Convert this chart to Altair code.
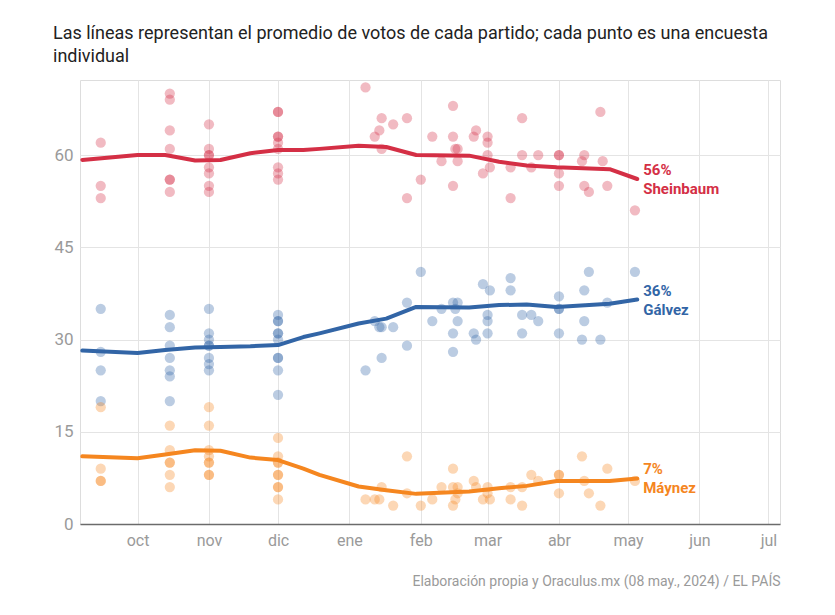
import altair as alt
import pandas as pd

# ---------------- data ----------------
parties = ["Sheinbaum", "Gálvez", "Máynez"]
colors = ["#d42f45", "#3265a6", "#f5861f"]

# individual polls
s_dates = (["2023-09-15"] * 3 + ["2023-10-15"] * 7 + ["2023-11-01"] * 8 + ["2023-12-01"] * 9 +
           ["2024-01-08", "2024-01-12", "2024-01-14", "2024-01-15", "2024-01-15", "2024-01-20",
            "2024-01-26", "2024-01-26", "2024-02-01", "2024-02-06", "2024-02-10",
            "2024-02-15", "2024-02-15", "2024-02-15", "2024-02-16", "2024-02-17", "2024-02-17",
            "2024-02-24", "2024-02-25", "2024-02-28", "2024-03-01", "2024-03-01", "2024-03-01",
            "2024-03-02", "2024-03-11", "2024-03-11", "2024-03-16", "2024-03-16", "2024-03-20",
            "2024-03-23", "2024-04-01", "2024-04-01", "2024-04-01", "2024-04-01", "2024-04-11",
            "2024-04-12", "2024-04-12", "2024-04-14", "2024-04-19", "2024-04-20", "2024-04-22",
            "2024-05-04"])
s_values = [62, 55, 53,
            70, 69, 64, 61, 56, 56, 54,
            65, 61, 60, 60, 58, 57, 55, 54,
            67, 67, 63, 63, 62, 61, 58, 57, 56,
            71, 63, 64, 66, 61, 65,
            66, 53, 56, 63, 59,
            68, 63, 55, 61, 61, 59,
            63, 64, 57, 63, 62, 60,
            58, 58, 53, 66, 60, 58,
            60, 60, 60, 57, 55, 59,
            60, 55, 54, 67, 59, 55,
            51]

g_dates = (["2023-09-15"] * 4 + ["2023-10-15"] * 7 + ["2023-11-01"] * 8 + ["2023-12-01"] * 10 +
           ["2024-01-08", "2024-01-12", "2024-01-14", "2024-01-15", "2024-01-15", "2024-01-20",
            "2024-01-26", "2024-01-26", "2024-02-01", "2024-02-06", "2024-02-10",
            "2024-02-15", "2024-02-15", "2024-02-15", "2024-02-16", "2024-02-17", "2024-02-17",
            "2024-02-24", "2024-02-25", "2024-02-28", "2024-03-01", "2024-03-01", "2024-03-01",
            "2024-03-02", "2024-03-11", "2024-03-11", "2024-03-16", "2024-03-16", "2024-03-20",
            "2024-03-23", "2024-04-01", "2024-04-01", "2024-04-01", "2024-04-01", "2024-04-11",
            "2024-04-12", "2024-04-12", "2024-04-14", "2024-04-19", "2024-04-22",
            "2024-05-04"])
g_values = [35, 28, 25, 20,
            34, 32, 29, 27, 25, 24, 20,
            35, 31, 30, 29, 29, 27, 26, 25,
            34, 33, 33, 31, 31, 30, 27, 27, 25, 21,
            25, 33, 32, 32, 27, 32,
            36, 29, 41, 33, 35,
            36, 31, 28, 35, 36, 33,
            31, 30, 39, 34, 33, 31,
            38, 40, 38, 34, 31, 34,
            33, 37, 35, 35, 31, 30,
            38, 33, 41, 30, 36,
            41]

m_dates = (["2023-09-15"] * 4 + ["2023-10-15"] * 6 + ["2023-11-01"] * 8 + ["2023-12-01"] * 9 +
           ["2024-01-08", "2024-01-12", "2024-01-14", "2024-01-15", "2024-01-20",
            "2024-01-26", "2024-01-26", "2024-02-01", "2024-02-06", "2024-02-10",
            "2024-02-15", "2024-02-15", "2024-02-15", "2024-02-16", "2024-02-17", "2024-02-17",
            "2024-02-24", "2024-02-25", "2024-02-28", "2024-03-01", "2024-03-01",
            "2024-03-02", "2024-03-11", "2024-03-11", "2024-03-16", "2024-03-16", "2024-03-20",
            "2024-03-23", "2024-04-01", "2024-04-01", "2024-04-01", "2024-04-11",
            "2024-04-12", "2024-04-14", "2024-04-19", "2024-04-22",
            "2024-05-04"])
m_values = [19, 9, 7, 7,
            16, 12, 10, 10, 8, 6,
            19, 16, 12, 11, 10, 10, 8, 8,
            14, 11, 10, 10, 8, 8, 6, 6, 4,
            4, 4, 4, 6, 3,
            11, 5, 3, 4, 6,
            9, 6, 3, 4, 6, 5,
            7, 6, 4, 6, 5,
            4, 6, 4, 6, 3, 8,
            7, 8, 8, 5, 11,
            7, 5, 3, 9,
            7]

# poll averages
avg_dates = ["2023-09-07", "2023-10-01", "2023-10-13", "2023-10-26", "2023-11-06", "2023-11-19",
             "2023-12-01", "2023-12-12", "2023-12-19", "2024-01-05", "2024-01-17", "2024-01-30",
             "2024-02-22", "2024-03-06", "2024-03-18", "2024-03-31", "2024-04-23", "2024-05-05"]
s_avg = [59.2, 60.0, 60.0, 59.1, 59.2, 60.3, 60.8, 60.8, 61.0, 61.5, 61.3, 60.0,
         59.9, 58.9, 58.3, 58.0, 57.7, 56.1]
g_avg = [28.2, 27.8, 28.3, 28.7, 28.8, 28.9, 29.1, 30.4, 31.0, 32.6, 33.4, 35.3,
         35.2, 35.6, 35.7, 35.3, 35.8, 36.5]
m_avg = [11.0, 10.7, 11.3, 12.0, 11.9, 10.8, 10.4, 9.0, 8.0, 6.1, 5.5, 4.9,
         5.3, 5.8, 6.2, 7.0, 7.0, 7.4]

end_labels = ["56%", "36%", "7%"]

title_lines = ["Las líneas representan el promedio de votos de cada partido; cada punto es una encuesta",
               "individual"]
source = "Elaboración propia y Oraculus.mx (08 may., 2024) / EL PAÍS"
month_names = ["ene", "feb", "mar", "abr", "may", "jun", "jul", "ago", "sep", "oct", "nov", "dic"]
y_ticks = [0, 15, 30, 45, 60]

# ---------------- tables ----------------
polls = pd.concat([
    pd.DataFrame({"date": s_dates, "value": s_values, "party": parties[0]}),
    pd.DataFrame({"date": g_dates, "value": g_values, "party": parties[1]}),
    pd.DataFrame({"date": m_dates, "value": m_values, "party": parties[2]}),
], ignore_index=True)

avgs = pd.concat([
    pd.DataFrame({"date": avg_dates, "value": s_avg, "party": parties[0]}),
    pd.DataFrame({"date": avg_dates, "value": g_avg, "party": parties[1]}),
    pd.DataFrame({"date": avg_dates, "value": m_avg, "party": parties[2]}),
], ignore_index=True)

labels = pd.DataFrame({
    "date": [avg_dates[-1]] * 3,
    "value": [s_avg[-1], g_avg[-1], m_avg[-1]],
    "party": parties,
    "pct": end_labels,
})

FONT = "Roboto"
GREY = "#9a9a9a"

color = alt.Color("party:N", scale=alt.Scale(domain=parties, range=colors), legend=None)

month_js = "[" + ",".join("'%s'" % m for m in month_names) + "]"

x = alt.X(
    "date:T",
    scale=alt.Scale(type="utc",
                    domain=[alt.DateTime(year=2023, month=9, date=6, utc=True),
                            alt.DateTime(year=2024, month=7, date=6, utc=True)]),
    axis=alt.Axis(
        tickCount={"interval": "month", "step": 1},
        labelExpr=month_js + "[utcmonth(datum.value)]",
        grid=True, gridColor="#e4e4e4", gridWidth=1,
        ticks=False, domain=True, domainColor="#6b6b6b", domainWidth=1.5,
        labelFont=FONT, labelFontSize=16, labelColor=GREY, labelPadding=8,
        title=source, titleAnchor="end", titleFont=FONT, titleFontSize=14,
        titleFontWeight="normal", titleColor=GREY, titlePadding=26,
    ),
)
y = alt.Y(
    "value:Q",
    scale=alt.Scale(domain=[0, 72.2], nice=False, zero=True),
    axis=alt.Axis(
        values=y_ticks, grid=True, gridColor="#e4e4e4", gridWidth=1,
        ticks=False, domain=False,
        labelFont=FONT, labelFontSize=17, labelColor=GREY, labelPadding=7,
        title=None,
    ),
)

points = alt.Chart(polls).mark_circle(size=105, opacity=0.33).encode(
    x=x, y=y, color=color)

lines = alt.Chart(avgs).mark_line(strokeWidth=4, strokeCap="round", strokeJoin="round").encode(
    x=x, y=y, color=color, detail="party:N")

pct_text = alt.Chart(labels).mark_text(
    align="left", baseline="middle", dx=6, dy=-9, font=FONT, fontSize=15, fontWeight="bold"
).encode(x=x, y=y, color=color, text="pct:N")

name_text = alt.Chart(labels).mark_text(
    align="left", baseline="middle", dx=6, dy=10, font=FONT, fontSize=15, fontWeight="bold"
).encode(x=x, y=y, color=color, text="party:N")

chart = alt.layer(points, lines, pct_text, name_text).properties(
    width=700,
    height=444,
    autosize=alt.AutoSizeParams(type="none"),
    padding={"left": 72, "top": 72, "right": 40, "bottom": 75},
    title=alt.TitleParams(
        text=title_lines, anchor="start", frame="group", dx=-27, dy=16, offset=12,
        baseline="bottom", font=FONT, fontSize=18, fontWeight="normal",
        color="#222222", lineHeight=23,
    ),
).configure_view(stroke=None).configure(background="white")

chart.save("out.html", embed_options={"renderer": "svg", "actions": False})
